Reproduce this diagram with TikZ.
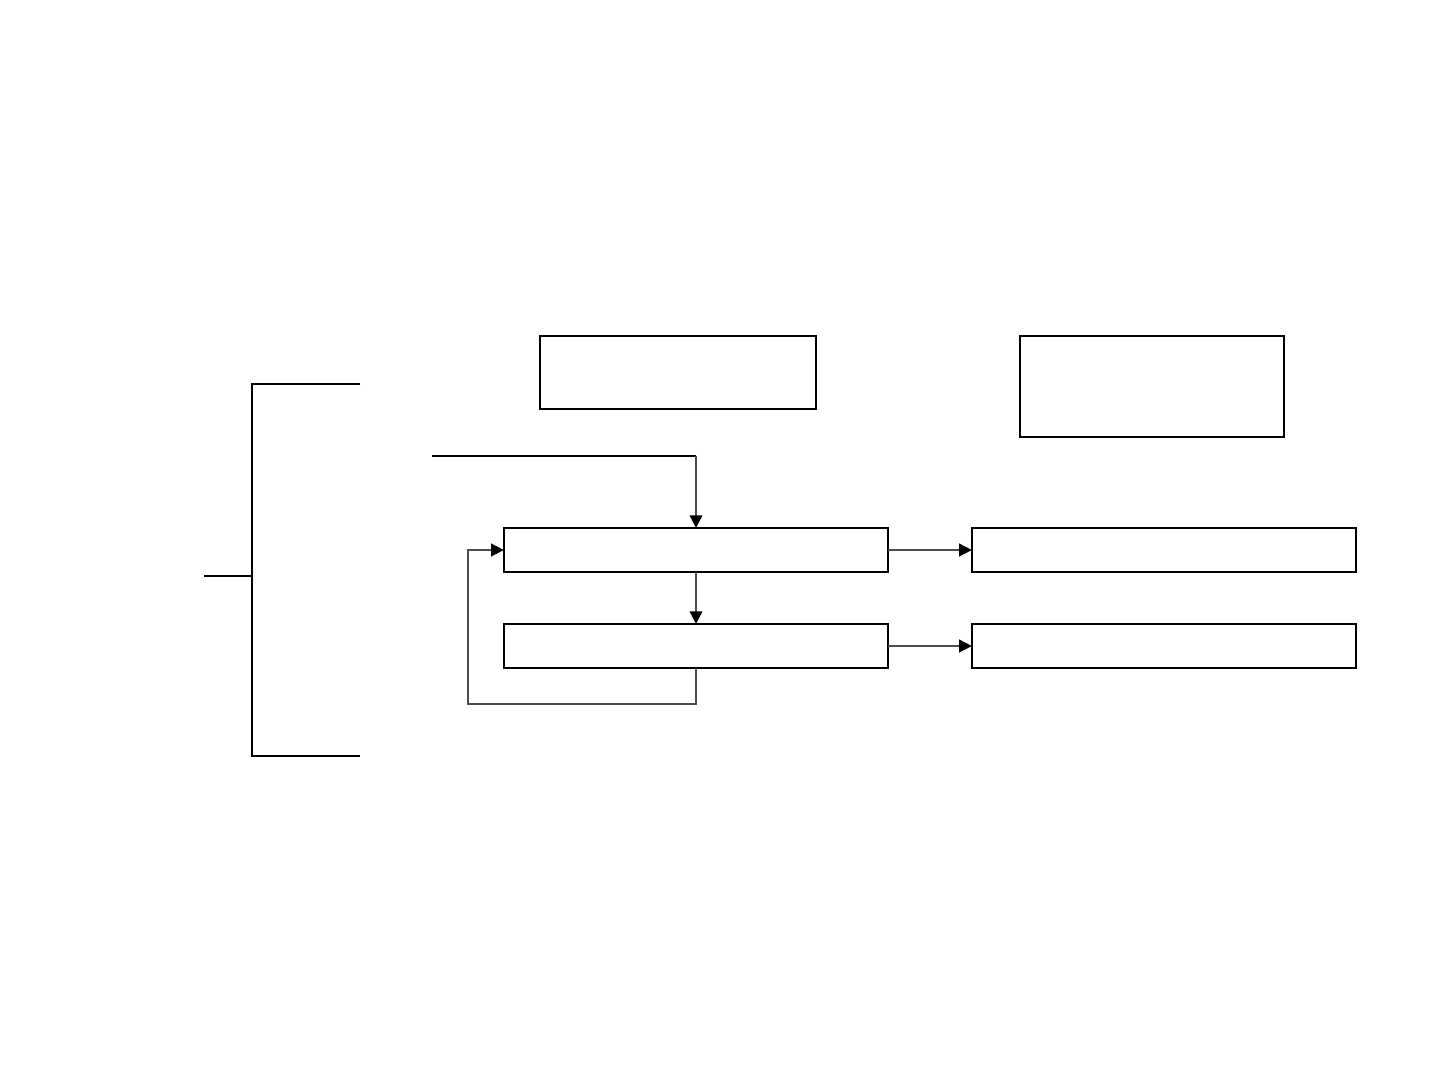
\documentclass[tikz,border=0pt]{standalone}
\usetikzlibrary{arrows.meta}

\tikzset{
  caja/.style={draw, line width=0.6pt, inner sep=0pt, outer sep=0pt},
  flecha/.style={draw=black!70, line width=0.4pt, -{Triangle[length=3.6pt,width=3.6pt,black]}},
  linea/.style={draw=black!70, line width=0.4pt}
}

\begin{document}
\begin{tikzpicture}[x=0.01cm,y=-0.01cm]
\useasboundingbox (0,0) rectangle (1440,1080);

% Cajas superiores
\node[caja, minimum width=2.76cm, minimum height=0.73cm] (arriba) at (678,372.5) {};
\node[caja, minimum width=2.64cm, minimum height=1.01cm] (derecha) at (1152,386.5) {};

% Cajas del bucle
\node[caja, minimum width=3.84cm, minimum height=0.44cm] (paso) at (696,550) {};
\node[caja, minimum width=3.84cm, minimum height=0.44cm] (prueba) at (696,646) {};

% Cajas de salida
\node[caja, minimum width=3.84cm, minimum height=0.44cm] (salida1) at (1164,550) {};
\node[caja, minimum width=3.84cm, minimum height=0.44cm] (salida2) at (1164,646) {};

% Llave de la izquierda
\coordinate (llave) at (204,576);
\draw[line width=0.6pt] (360,384) -- (252,384) -- (252,756) -- (360,756);
\draw[line width=0.6pt] (llave) -- (252,576);

% Entrada
\coordinate (entrada) at (432,456);
\draw[line width=0.6pt] (entrada) -- (696,456);
\draw[flecha] (696,456) -- (paso.north);

% Conectores
\draw[flecha] (paso) -- (prueba);
\draw[flecha] (paso) -- (salida1);
\draw[flecha] (prueba) -- (salida2);
\draw[flecha] (prueba.south) -- ++(0,36) -| (468,550) -- (paso.west);
\end{tikzpicture}
\end{document}
